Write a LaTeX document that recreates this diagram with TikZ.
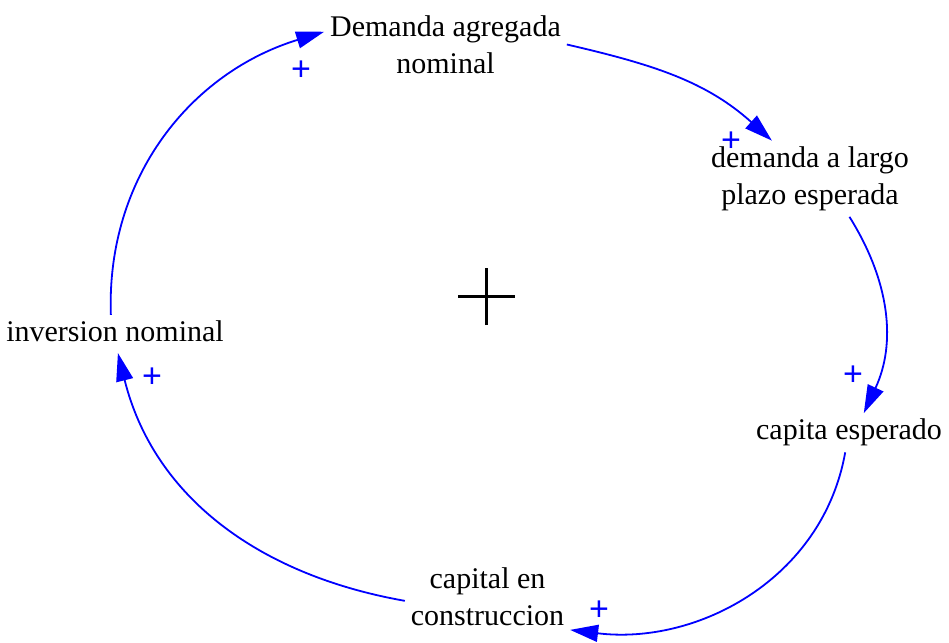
\documentclass[tikz,border=0pt]{standalone}
\usepackage{fontspec}
\setmainfont{Liberation Serif}
\newfontfamily\polfont{Liberation Sans}
\usetikzlibrary{arrows.meta}

\begin{document}
\begin{tikzpicture}[x=1pt,y=1pt,
    var/.style={align=center,inner sep=3pt,outer sep=3pt,
      font=\fontsize{30}{37}\selectfont},
    link/.style={blue,line width=1.8pt,-{Triangle[length=28pt,width=17pt]}},
    pol/.style={blue,inner sep=0pt,font=\polfont\fontsize{34}{34}\selectfont}]
    \useasboundingbox (0,0) rectangle (949,-642);
    % Variables del ciclo
    \node[var] (dem) at (445.5,-44.5) {Demanda agregada\\nominal};
    \node[var] (dlp) at (810,-178.75) {demanda a largo\\plazo esperada};
    \node[var] (cap) at (849,-432.75) {capita esperado};
    \node[var] (con) at (487.5,-596.5) {capital en\\construccion};
    \node[var] (inv) at (115,-331.5) {inversion nominal};
    % Enlaces causales
    \draw[link] (inv.104) to[out=92,in=197] (dem.174);
    \draw[link] (dem.east) to[out=-13,in=138] (dlp.135);
    \draw[link] (dlp.-44) to[out=-58,in=65] (cap.53);
    \draw[link] (cap.-101) to[out=-100,in=-7] (con.-22);
    \draw[link] (con.183) to[out=170,in=-76] ([yshift=-5pt]inv.-80);
    % Polaridades
    \node[pol] (p1) at (301,-71) {+};
    \node[pol] (p2) at (731,-142) {+};
    \node[pol] (p3) at (853,-376) {+};
    \node[pol] (p4) at (599,-611) {+};
    \node[pol] (p5) at (152,-378) {+};
    % Polaridad del ciclo
    \coordinate (loop) at (486.5,-296.5);
    \draw[line width=3.4pt] ([xshift=-28.5pt]loop) -- ([xshift=28.5pt]loop);
    \draw[line width=3.4pt] ([yshift=-28.5pt]loop) -- ([yshift=28.5pt]loop);
\end{tikzpicture}
\end{document}
